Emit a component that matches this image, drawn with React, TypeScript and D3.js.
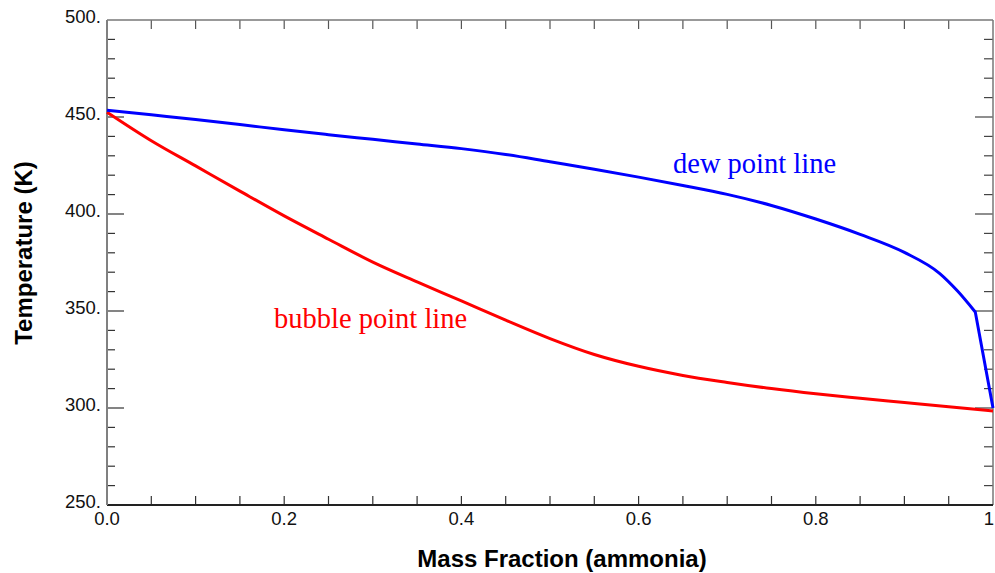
import React, { useEffect, useRef } from "react";
import { select, scaleLinear, line, curveLinear, curveMonotoneX, range } from "d3";

// mass fraction of ammonia (x) and temperatures in K
const dewFrac = [0, 0.05, 0.1, 0.15, 0.2, 0.25, 0.3, 0.35, 0.4, 0.45, 0.5, 0.55, 0.6, 0.65, 0.7, 0.75, 0.8, 0.85, 0.9, 0.94, 0.96, 0.98, 1.0];
const dewTemp = [453.5, 451.1, 448.7, 446.1, 443.4, 440.9, 438.5, 436.1, 433.7, 430.7, 426.9, 423.1, 419, 414.7, 410.1, 404.4, 397.4, 389.5, 380.2, 369.3, 360.3, 349.5, 300];

const bubbleFrac = [0, 0.05, 0.1, 0.15, 0.2, 0.25, 0.3, 0.35, 0.4, 0.45, 0.5, 0.55, 0.6, 0.65, 0.7, 0.75, 0.8, 0.85, 0.9, 0.95, 1.0];
const bubbleTemp = [452.5, 437.8, 424.8, 411.8, 399, 387, 375.2, 365, 355.2, 345.3, 335.8, 327.6, 321.5, 316.8, 313.2, 310, 307.3, 305, 302.8, 300.6, 298.5];

const xTickValues = [0, 0.2, 0.4, 0.6, 0.8, 1];
const xTickLabels = ["0.0", "0.2", "0.4", "0.6", "0.8", "1"];
const yTickValues = [250, 300, 350, 400, 450, 500];
const yTickLabels = ["250.", "300.", "350.", "400.", "450.", "500."];

const W = 995;
const H = 573;
const left = 107, right = 993, top = 20, bottom = 505;

export default function App() {
  const svgRef = useRef<SVGSVGElement>(null);

  useEffect(() => {
    const svg = select(svgRef.current);
    svg.selectAll("*").remove();

    const xScale = scaleLinear().domain([0, 1]).range([left, right]);
    const yScale = scaleLinear().domain([250, 500]).range([bottom, top]);

    const g = svg.append("g");

    // minor x ticks every 0.05, top and bottom
    const xMinor = range(0, 21).map((i) => i * 0.05);
    xMinor.forEach((v) => {
      if (v === 0 || v === 1) return;
      g.append("line").attr("x1", xScale(v)).attr("x2", xScale(v))
        .attr("y1", bottom).attr("y2", bottom - 9)
        .attr("stroke", "#333").attr("stroke-width", 1.2);
      g.append("line").attr("x1", xScale(v)).attr("x2", xScale(v))
        .attr("y1", top).attr("y2", top + 9)
        .attr("stroke", "#555").attr("stroke-width", 1.2);
    });

    // y ticks every 10 K, major every 50
    range(250, 501, 10).forEach((v) => {
      if (v === 250 || v === 500) return;
      const len = v % 50 === 0 ? 17 : 8;
      g.append("line").attr("x1", left).attr("x2", left + len)
        .attr("y1", yScale(v)).attr("y2", yScale(v))
        .attr("stroke", "#333").attr("stroke-width", 1.2);
      g.append("line").attr("x1", right).attr("x2", right - (v % 50 === 0 ? 18 : 9))
        .attr("y1", yScale(v)).attr("y2", yScale(v))
        .attr("stroke", "#444").attr("stroke-width", 1.2);
    });

    // frame
    g.append("line").attr("x1", left).attr("x2", right).attr("y1", top).attr("y2", top)
      .attr("stroke", "#777").attr("stroke-width", 1.5);
    g.append("line").attr("x1", right).attr("x2", right).attr("y1", top).attr("y2", bottom)
      .attr("stroke", "#777").attr("stroke-width", 1.5);
    g.append("line").attr("x1", left).attr("x2", right).attr("y1", bottom).attr("y2", bottom)
      .attr("stroke", "#222").attr("stroke-width", 1.8);
    g.append("line").attr("x1", left).attr("x2", left).attr("y1", top).attr("y2", bottom)
      .attr("stroke", "#808080").attr("stroke-width", 2);

    // tick labels
    g.selectAll(".ylab").data(yTickValues).enter().append("text")
      .attr("x", left - 6)
      .attr("y", (d) => yScale(d) + 3)
      .attr("text-anchor", "end")
      .style("font", "18.5px Arial, 'Liberation Sans', sans-serif")
      .attr("fill", "#111")
      .text((d, i) => yTickLabels[i]);

    // last label kept inside the right edge
    g.selectAll(".xlab").data(xTickValues).enter().append("text")
      .attr("x", (d) => (d === 1 ? W - 1 : xScale(d)))
      .attr("y", bottom + 20)
      .attr("text-anchor", (d) => (d === 1 ? "end" : "middle"))
      .style("font", "18.5px Arial, 'Liberation Sans', sans-serif")
      .attr("fill", "#111")
      .text((d, i) => xTickLabels[i]);

    // axis titles
    g.append("text")
      .attr("x", 562).attr("y", 567)
      .attr("text-anchor", "middle")
      .style("font", "bold 24px Arial, 'Liberation Sans', sans-serif")
      .attr("fill", "#000")
      .text("Mass Fraction (ammonia)");

    g.append("text")
      .attr("transform", "translate(32,253) rotate(-90)")
      .attr("text-anchor", "middle")
      .style("font", "bold 24px Arial, 'Liberation Sans', sans-serif")
      .attr("fill", "#000")
      .text("Temperature (K)");

    // curves
    const smooth = line<number>().x((d) => xScale(d)).curve(curveMonotoneX);
    const straight = line<number>().x((d) => xScale(d)).curve(curveLinear);

    g.append("path")
      .attr("d", smooth.y((d, i) => yScale(bubbleTemp[i]))(bubbleFrac))
      .attr("fill", "none")
      .attr("stroke", "#ff0000")
      .attr("stroke-width", 3)
      .attr("stroke-linejoin", "round");

    // dew line: smooth up to the kink, then a straight drop to x = 1
    const kink = dewFrac.length - 2;
    const dewPath =
      smooth.y((d, i) => yScale(dewTemp[i]))(dewFrac.slice(0, kink + 1)) +
      straight.y((d, i) => yScale(dewTemp[kink + i]))(dewFrac.slice(kink)).replace(/^M/, "L");

    g.append("path")
      .attr("d", dewPath)
      .attr("fill", "none")
      .attr("stroke", "#0000ff")
      .attr("stroke-width", 3)
      .attr("stroke-linejoin", "round");

    // curve labels
    g.append("text")
      .attr("x", 673).attr("y", 173)
      .style("font", "28.5px 'Times New Roman', 'Liberation Serif', serif")
      .attr("fill", "#0000ff")
      .text("dew point line");

    g.append("text")
      .attr("x", 274).attr("y", 328)
      .style("font", "28.5px 'Times New Roman', 'Liberation Serif', serif")
      .attr("fill", "#ff0000")
      .text("bubble point line");
  }, []);

  return (
    <svg
      ref={svgRef}
      width={W}
      height={H}
      style={{ position: "absolute", left: 0, top: 0, background: "#fff" }}
    />
  );
}
